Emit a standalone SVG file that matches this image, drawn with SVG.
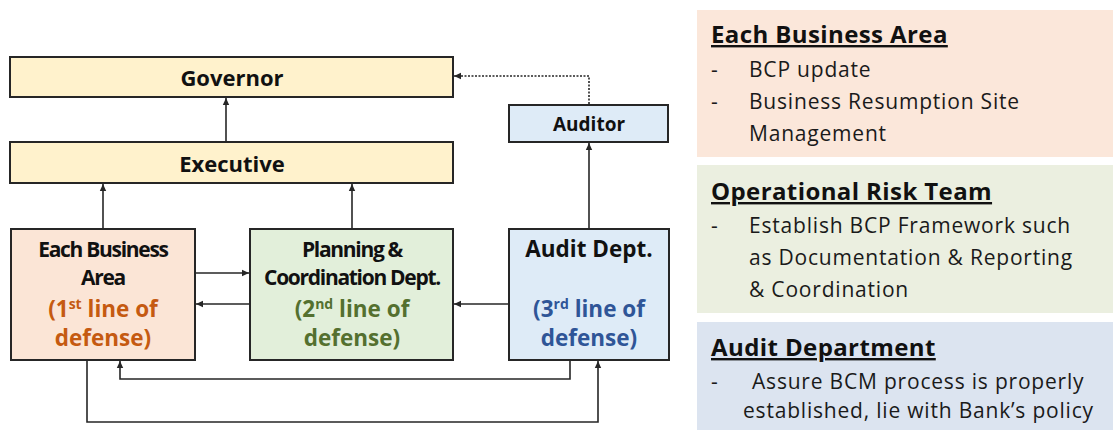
<svg xmlns="http://www.w3.org/2000/svg" width="1113" height="430" viewBox="0 0 1113 430">
<style>
.box{stroke:#262626;stroke-width:2}
.y{fill:#FFF2CC}.o{fill:#FBE5D6}.g{fill:#E2EFDA}.b{fill:#DEEBF7}
.t{font-family:"Open Sans",Lato,sans-serif;font-weight:bold;fill:#111;text-anchor:middle}
.k{letter-spacing:-1.3px;font-size:21px}
.s{font-size:22.5px}
.c{stroke:#262626;stroke-width:1.6;fill:none}
.p{font-family:"Open Sans",Lato,sans-serif;fill:#1a1a1a;font-size:21px;letter-spacing:0.8px}
.h{font-family:"Open Sans",Lato,sans-serif;font-weight:bold;fill:#111;font-size:24px;letter-spacing:0.4px;text-decoration:underline}
</style>
<defs>
<marker id="ah" markerWidth="8" markerHeight="8" refX="7" refY="4" orient="auto" markerUnits="userSpaceOnUse">
<path d="M0,0.8 L7,4 L0,7.2 Z" fill="#262626"/>
</marker>
</defs>
<g id="panel-business">
<rect x="697" y="10" width="416" height="147" fill="#FBE7DA"/>
<text class="h" x="711" y="43">Each Business Area</text>
<text class="p" x="711" y="77">-</text><text class="p" x="749" y="77">BCP update</text>
<text class="p" x="711" y="109">-</text><text class="p" x="749" y="109">Business Resumption Site</text>
<text class="p" x="749" y="141">Management</text>
</g>
<g id="panel-risk">
<rect x="697" y="165" width="416" height="148" fill="#EBEFE0"/>
<text class="h" x="711" y="200">Operational Risk Team</text>
<text class="p" x="711" y="233">-</text><text class="p" x="749" y="233">Establish BCP Framework such</text>
<text class="p" x="749" y="265">as Documentation &amp; Reporting</text>
<text class="p" x="749" y="297">&amp; Coordination</text>
</g>
<g id="panel-audit">
<rect x="697" y="322" width="416" height="108" fill="#DCE4F0"/>
<text class="h" x="711" y="356">Audit Department</text>
<text class="p" x="711" y="389">-</text><text class="p" x="752" y="389">Assure BCM process is properly</text>
<text class="p" x="743" y="418">established, lie with Bank’s policy</text>
</g>
<g id="governor">
<rect class="box y" x="10" y="57" width="443" height="40"/>
<text class="t" x="232" y="86" font-size="22">Governor</text>
</g>
<g id="executive">
<rect class="box y" x="10" y="142" width="443" height="41"/>
<text class="t" x="232" y="172" font-size="22">Executive</text>
</g>
<g id="auditor">
<rect class="box b" x="509" y="105" width="159" height="37"/>
<text class="t" x="589" y="131" font-size="19">Auditor</text>
</g>
<g id="each-business-area">
<rect class="box o" x="11" y="229" width="184" height="131"/>
<text class="t k" x="103" y="257">Each Business</text>
<text class="t k" x="103" y="285">Area</text>
<text class="t s" x="103" y="317" style="fill:#C55A11">(1<tspan font-size="14" dy="-8">st</tspan><tspan dy="8"> line of</tspan></text>
<text class="t s" x="103" y="346" style="fill:#C55A11">defense)</text>
</g>
<g id="planning">
<rect class="box g" x="250" y="229" width="203" height="131"/>
<text class="t k" x="352" y="257">Planning &amp;</text>
<text class="t k" x="352" y="285">Coordination Dept.</text>
<text class="t s" x="352" y="317" style="fill:#54702F">(2<tspan font-size="14" dy="-8">nd</tspan><tspan dy="8"> line of</tspan></text>
<text class="t s" x="352" y="346" style="fill:#54702F">defense)</text>
</g>
<g id="audit-dept">
<rect class="box b" x="509" y="229" width="160" height="131"/>
<text class="t s" x="589" y="257">Audit Dept.</text>
<text class="t s" x="589" y="317" style="fill:#2F5597">(3<tspan font-size="14" dy="-8">rd</tspan><tspan dy="8"> line of</tspan></text>
<text class="t s" x="589" y="346" style="fill:#2F5597">defense)</text>
</g>
<g id="connectors">
<path class="c" d="M226 142 L226 98" marker-end="url(#ah)"/>
<path class="c" d="M103 228 L103 184" marker-end="url(#ah)"/>
<path class="c" d="M352 228 L352 184" marker-end="url(#ah)"/>
<path class="c" d="M589 228 L589 143" marker-end="url(#ah)"/>
<path class="c" d="M589 104 L589 76 L454 76" stroke-dasharray="2,1.5" marker-end="url(#ah)"/>
<path class="c" d="M196 273 L249 273" marker-end="url(#ah)"/>
<path class="c" d="M249 304 L196 304" marker-end="url(#ah)"/>
<path class="c" d="M508 304 L454 304" marker-end="url(#ah)"/>
<path class="c" d="M570 361 L570 379 L120 379 L120 361" marker-end="url(#ah)"/>
<path class="c" d="M87 361 L87 422 L598 422 L598 361" marker-end="url(#ah)"/>
</g>
</svg>
